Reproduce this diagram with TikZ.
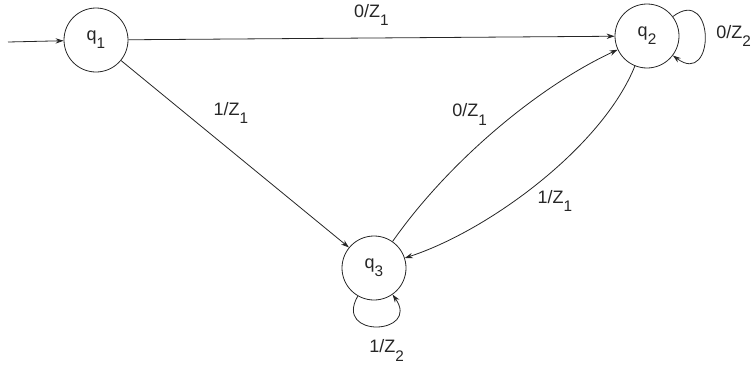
\documentclass[tikz,border=0pt]{standalone}
\usepackage{fontspec}
\setmainfont{Liberation Sans}
\usetikzlibrary{arrows.meta,positioning}

\newcommand{\lowsub}[1]{\raisebox{-0.45em}{\fontsize{11.5}{13}\selectfont #1}}

\begin{document}
\begin{tikzpicture}[x=0.75pt, y=0.75pt, >={Stealth[length=6pt,width=4pt]},
  line width=0.6pt, color=black!85,
  state/.style={circle, draw, minimum size=48pt, inner sep=0pt, font=\fontsize{13.5}{15}\selectfont},
  lbl/.style={font=\fontsize{13.5}{15}\selectfont}]

\useasboundingbox (0,0) rectangle (756,369);

\node[state] (q1) at (96,329) {q\lowsub{1}};
\node[state] (q2) at (647,333) {q\lowsub{2}};
\node[state] (q3) at (374,101) {q\lowsub{3}};
\coordinate (start) at (8,327);

\draw[->] (start) -- (q1);
\draw[->] (q1) -- node[lbl, yshift=17pt] {0/Z\lowsub{1}} (q2);
\draw[->] (q1) -- node[lbl, xshift=-3pt, yshift=31pt] {1/Z\lowsub{1}} (q3);
\draw[->] (q3) to[out=55, in=205, looseness=0.8] node[lbl, xshift=-18pt, yshift=13pt] {0/Z\lowsub{1}} (q2);
\draw[->] (q2) to[out=-112, in=18, looseness=0.75] node[lbl, xshift=12pt, yshift=-14pt] {1/Z\lowsub{1}} (q3);
\draw[->] (q2) to[out=37, in=-37, distance=40pt] node[lbl, right, xshift=5pt] {0/Z\lowsub{2}} (q2);
\draw[->] (q3) to[out=-120, in=-55, distance=37pt] node[lbl, xshift=7.5pt, yshift=-18pt] {1/Z\lowsub{2}} (q3);

\end{tikzpicture}
\end{document}
